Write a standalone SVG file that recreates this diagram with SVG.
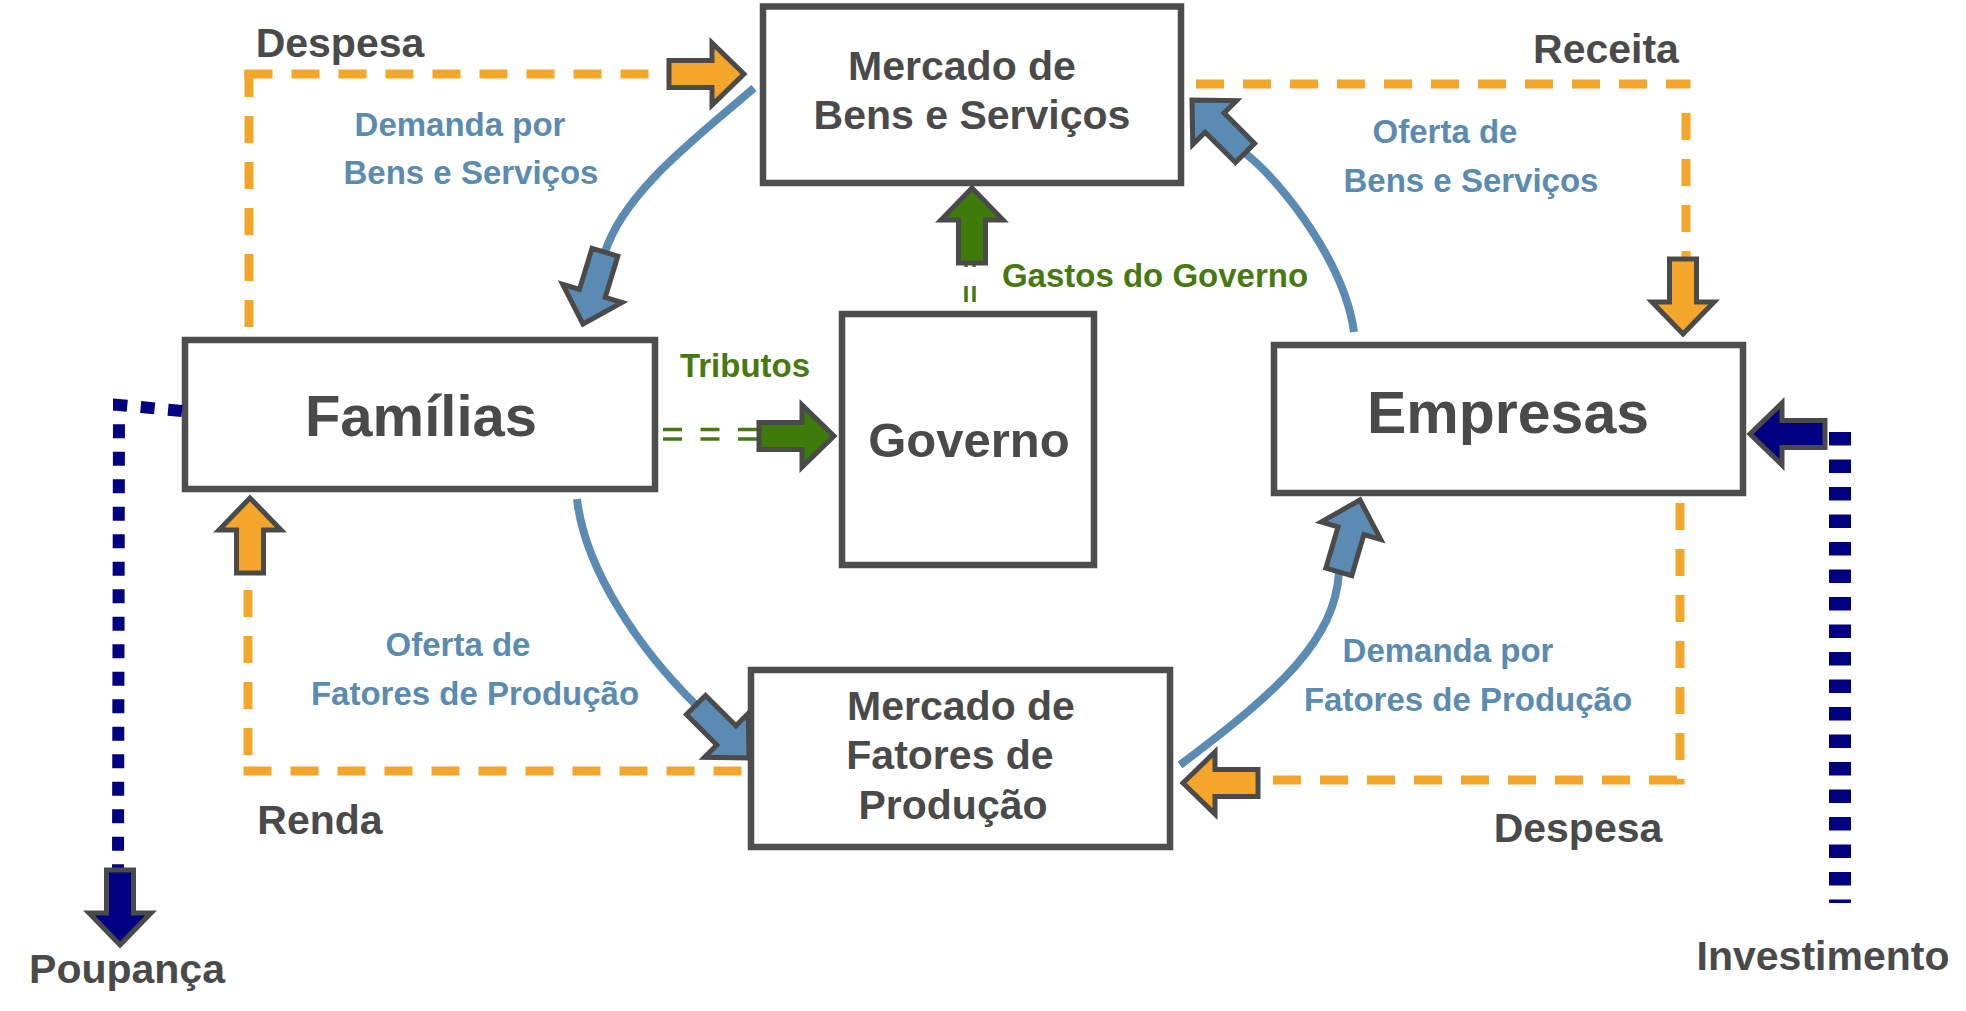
<svg xmlns="http://www.w3.org/2000/svg" xmlns:xlink="http://www.w3.org/1999/xlink" width="1966" height="1011" viewBox="0 0 1966 1011">
<style>
  .box{fill:#ffffff;stroke:#4d4d4d;stroke-width:6.5}
  .nt{font-family:"Liberation Sans",Arial,Helvetica,sans-serif;font-weight:bold;fill:#4a4a4a;text-anchor:middle}
  .lbl{font-family:"Liberation Sans",Arial,Helvetica,sans-serif;font-weight:bold;font-size:41px;fill:#4a4a4a;text-anchor:middle}
  .blt{font-family:"Liberation Sans",Arial,Helvetica,sans-serif;font-weight:bold;font-size:33px;fill:#5b8bb0;text-anchor:middle}
  .grt{font-family:"Liberation Sans",Arial,Helvetica,sans-serif;font-weight:bold;font-size:33px;fill:#467a10;text-anchor:middle}
  .arc{fill:none;stroke:#5b8bb3;stroke-width:8}
  .dh{fill:none;stroke:#f4a62a;stroke-width:9;stroke-dasharray:28 19}
  .dv{fill:none;stroke:#f4a62a;stroke-width:9;stroke-dasharray:27 19}
  .dot{fill:none;stroke:#000080;stroke-width:12;stroke-dasharray:14 13.5}
  .dotw{fill:none;stroke:#000080;stroke-width:22;stroke-dasharray:13.5 14}
  .gd{fill:none;stroke:#467a10;stroke-width:3.5}
  .arr{stroke:#4a4a4a;stroke-width:5;stroke-linejoin:miter}
  .or{fill:#f4a62a}
  .bl{fill:#5b8bb3}
  .gr{fill:#3f7b0b}
  .nv{fill:#000080}
</style>
<defs>
  <path id="blk" d="M0,0 L-32,-31 L-32,-13.5 L-75,-13.5 L-75,13.5 L-32,13.5 L-32,31 Z"/>
</defs>
<rect x="0" y="0" width="1966" height="1011" fill="#ffffff"/>

<g id="node-mercado-bens">
  <rect class="box" x="763" y="6.5" width="418" height="176.5"/>
  <text class="nt" font-size="41" x="962" y="80">Mercado de</text>
  <text class="nt" font-size="41" x="972" y="129">Bens e Serviços</text>
</g>
<g id="node-familias">
  <rect class="box" x="185" y="340" width="470" height="149"/>
  <text class="nt" font-size="58" x="421" y="436">Famílias</text>
</g>
<g id="node-governo">
  <rect class="box" x="842" y="314" width="252" height="251"/>
  <text class="nt" font-size="49" x="969" y="457">Governo</text>
</g>
<g id="node-empresas">
  <rect class="box" x="1274" y="345" width="469" height="148"/>
  <text class="nt" font-size="59" x="1508" y="433">Empresas</text>
</g>
<g id="node-mercado-fatores">
  <rect class="box" x="751" y="670" width="419" height="177"/>
  <text class="nt" font-size="41" x="961" y="720">Mercado de</text>
  <text class="nt" font-size="41" x="950" y="769">Fatores de</text>
  <text class="nt" font-size="41" x="953" y="819">Produção</text>
</g>

<g id="connectors">
  <!-- orange dashed money flows -->
  <path class="dv" d="M249,70 V337"/>
  <path class="dh" d="M244.5,74 H665"/>
  <path class="dh" d="M1196,84 H1690.5"/>
  <path class="dv" d="M1686,113 V265"/>
  <path class="dv" d="M248,590 V760"/>
  <path class="dh" d="M243.5,771 H746"/>
  <path class="dv" d="M1680,503 V784.5"/>
  <path class="dh" d="M1677,780 H1240"/>

  <!-- blue circular flows -->
  <path class="arc" d="M754,88 C700,135 625,190 605,252"/>
  <path class="arc" d="M1245,153 C1285,185 1345,265 1354,332"/>
  <path class="arc" d="M577,499 C585,570 640,650 696,705"/>
  <path class="arc" d="M1180,765 C1280,690 1335,640 1339,572"/>

  <!-- navy dotted -->
  <path class="dot" d="M182,411 L119,405 L118,872"/>
  <path class="dotw" d="M1840,432 V903"/>

  <!-- green double dashed -->
  <path class="gd" d="M663,429.5 H762" stroke-dasharray="19 18.5"/>
  <path class="gd" d="M663,439 H762" stroke-dasharray="19 18.5"/>
  <path class="gd" d="M966,302 V255" stroke-dasharray="16 19"/>
  <path class="gd" d="M974,302 V255" stroke-dasharray="16 19"/>

  <!-- block arrows -->
  <use xlink:href="#blk" href="#blk" class="arr or" transform="translate(744,74)"/>
  <use xlink:href="#blk" href="#blk" class="arr or" transform="translate(1683,334) rotate(90)"/>
  <use xlink:href="#blk" href="#blk" class="arr or" transform="translate(250,498) rotate(-90)"/>
  <use xlink:href="#blk" href="#blk" class="arr or" transform="translate(1183,783) rotate(180)"/>
  <use xlink:href="#blk" href="#blk" class="arr gr" transform="translate(834,436)"/>
  <use xlink:href="#blk" href="#blk" class="arr gr" transform="translate(972,188) rotate(-90)"/>
  <use xlink:href="#blk" href="#blk" class="arr nv" transform="translate(1750,434) rotate(180)"/>
  <use xlink:href="#blk" href="#blk" class="arr nv" transform="translate(120,945) rotate(90)"/>
  <use xlink:href="#blk" href="#blk" class="arr bl" transform="translate(583,324) rotate(107)"/>
  <use xlink:href="#blk" href="#blk" class="arr bl" transform="translate(1192,100) rotate(-135)"/>
  <use xlink:href="#blk" href="#blk" class="arr bl" transform="translate(749,758) rotate(45)"/>
  <use xlink:href="#blk" href="#blk" class="arr bl" transform="translate(1360,500) rotate(-73.6)"/>
</g>

<g id="labels">
  <text class="lbl" x="340" y="57">Despesa</text>
  <text class="lbl" x="1606" y="63">Receita</text>
  <text class="lbl" x="320" y="834">Renda</text>
  <text class="lbl" x="1578" y="842">Despesa</text>
  <text class="lbl" x="127" y="983">Poupança</text>
  <text class="lbl" x="1823" y="970">Investimento</text>

  <text class="blt" x="460" y="136">Demanda por</text>
  <text class="blt" x="471" y="184">Bens e Serviços</text>
  <text class="blt" x="1445" y="143">Oferta de</text>
  <text class="blt" x="1471" y="192">Bens e Serviços</text>
  <text class="blt" x="458" y="656">Oferta de</text>
  <text class="blt" x="475" y="705">Fatores de Produção</text>
  <text class="blt" x="1448" y="662">Demanda por</text>
  <text class="blt" x="1468" y="711">Fatores de Produção</text>

  <text class="grt" x="745" y="377">Tributos</text>
  <text class="grt" x="1155" y="287">Gastos do Governo</text>
</g>
</svg>
